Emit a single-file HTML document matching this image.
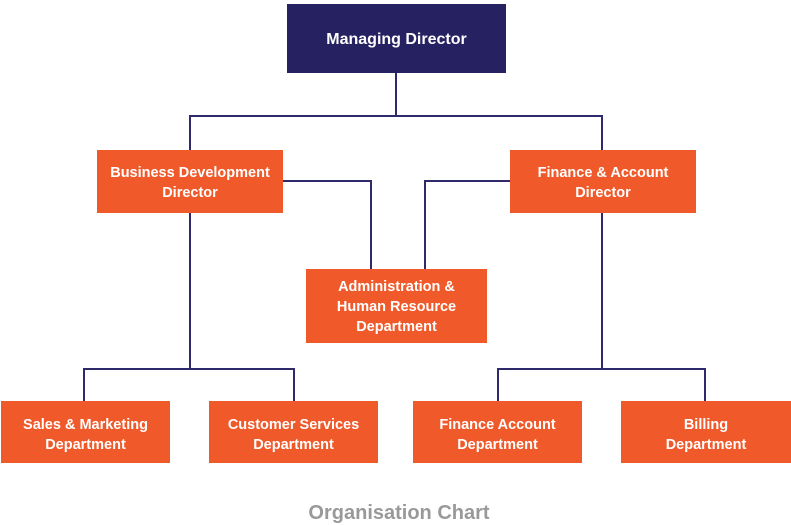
<!DOCTYPE html>
<html><head><meta charset="utf-8"><style>
body{margin:0;width:791px;height:525px;background:#fff;position:relative;overflow:hidden;font-family:"Liberation Sans",Arial,sans-serif}
.b{position:absolute;background:#f05a2b;color:#fff;font-weight:bold;font-size:14.5px;line-height:20px;text-align:center;display:flex;align-items:center;justify-content:center;box-sizing:border-box;padding-top:2px}
.m{background:#262262;font-size:16px}
.lo{padding-top:5px}
svg{position:absolute;left:0;top:0}
</style></head><body>
<svg width="791" height="525"><g stroke="#2e2a6b" stroke-width="2" fill="none">
<path d="M396 73V116M190 150V116H602V150"/>
<path d="M283 181H371V269M510 181H425V269"/>
<path d="M190 213V369M84 401V369H294V401"/>
<path d="M602 213V369M498 401V369H705V401"/>
</g></svg>
<div class="b m" style="left:287px;top:4px;width:219px;height:69px">Managing Director</div>
<div class="b" style="left:97px;top:150px;width:186px;height:63px">Business Development<br>Director</div>
<div class="b" style="left:510px;top:150px;width:186px;height:63px">Finance &amp; Account<br>Director</div>
<div class="b" style="left:306px;top:269px;width:181px;height:74px">Administration &amp;<br>Human Resource<br>Department</div>
<div class="b lo" style="left:1px;top:401px;width:169px;height:62px">Sales &amp; Marketing<br>Department</div>
<div class="b lo" style="left:209px;top:401px;width:169px;height:62px">Customer Services<br>Department</div>
<div class="b lo" style="left:413px;top:401px;width:169px;height:62px">Finance Account<br>Department</div>
<div class="b lo" style="left:621px;top:401px;width:170px;height:62px">Billing<br>Department</div>
<div style="position:absolute;left:0;width:798px;top:502px;text-align:center;color:#999;font-weight:bold;font-size:20px">Organisation Chart</div>
</body></html>
